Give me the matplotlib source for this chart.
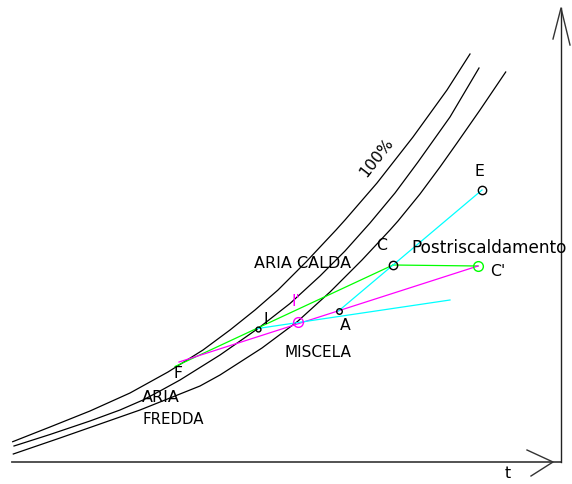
import matplotlib
matplotlib.use("Agg")
import matplotlib.pyplot as plt

# ---- data (pixel-like diagram units, y downward) ----
curve100_x = [12.7, 50, 90, 130, 168, 203, 230, 255, 278, 306, 336, 345, 377, 413, 447, 470]
curve100_y = [441.7, 427, 411, 393, 372, 350, 330, 310, 290, 262, 230, 220, 183, 137, 90, 54]

curve2_x = [14, 50, 90, 120, 143, 160, 180, 220, 258, 290, 320, 345, 370, 395, 418, 450, 479]
curve2_y = [446, 434.5, 421, 410, 400, 391, 380, 355, 328.5, 303.5, 276, 251, 223, 193, 162, 117, 68]

curve3_x = [13.3, 60, 100, 140, 180, 200, 220, 262, 297.5, 330, 362, 390, 398, 420, 440, 457, 480, 505.7]
curve3_y = [454, 438, 424, 410, 394, 386, 375, 348, 321.5, 292, 260, 230, 221, 194, 167, 143, 110, 72]

# state points
pt_F = (177, 365)
pt_I = (257.7, 328.5)
pt_M = (297.5, 321.5)      # miscela (I')
pt_A = (338.5, 311)
pt_C = (393, 265)
pt_Cp = (478, 266)
pt_E = (482, 190)
cyan_end = (450, 300)

# axes
x_axis_x = [12, 561]
x_axis_y = [462, 462]
y_axis_x = [561, 561]
y_axis_y = [462, 8]

labels = ["ARIA CALDA", "Postriscaldamento", "MISCELA", "ARIA", "FREDDA", "100%", "t",
          "E", "C", "C'", "A", "I", "I'", "F"]

# ---- drawing ----
fig = plt.figure(figsize=(5.72, 4.84), dpi=100)
ax = fig.add_axes([0, 0, 1, 1])
ax.set_xlim(0, 572)
ax.set_ylim(484, 0)
ax.axis("off")

lw = 0.9
for cx, cy in [(curve100_x, curve100_y), (curve2_x, curve2_y), (curve3_x, curve3_y)]:
    ax.plot(cx, cy, color="black", lw=lw)

# axes with arrows
ax.plot(x_axis_x, x_axis_y, color="#444444", lw=1.3)
ax.plot(y_axis_x, y_axis_y, color="#222222", lw=1.0)
ax.plot([527, 553, 531], [450, 462, 476], color="#333333", lw=1.0)
ax.plot([553, 561, 570], [39, 8, 45], color="#333333", lw=1.0)

GREEN = "#00ff00"
MAG = "#ff00ff"
CYAN = "#00ffff"

# process lines
ax.plot([175, pt_C[0]], [366.5, pt_C[1]], color=GREEN, lw=lw)
ax.plot([pt_C[0], pt_Cp[0]], [pt_C[1], pt_Cp[1]], color=GREEN, lw=lw)
ax.plot([179, pt_Cp[0]], [362, pt_Cp[1]], color=MAG, lw=lw)
ax.plot([pt_I[0], cyan_end[0]], [pt_I[1], cyan_end[1]], color=CYAN, lw=lw)
ax.plot([pt_A[0], pt_E[0]], [pt_A[1], pt_E[1]], color=CYAN, lw=lw)

# markers
ax.plot(*pt_I, marker="o", ms=3.5, mfc="none", mec="black", mew=1.0)
ax.plot(*pt_A, marker="o", ms=4, mfc="none", mec="black", mew=1.0)
ax.plot(*pt_M, marker="o", ms=7, mfc="none", mec=MAG, mew=1.0)
ax.plot(*pt_C, marker="o", ms=6, mfc="none", mec="black", mew=1.0)
ax.plot(*pt_Cp, marker="o", ms=7, mfc="none", mec=GREEN, mew=1.0)
ax.plot(*pt_E, marker="o", ms=6, mfc="none", mec="black", mew=1.0)

fs = 11.3
tk = dict(color="black", fontfamily="DejaVu Sans")
ax.text(254, 268, labels[0], fontsize=11.5, va="baseline", ha="left", **tk)
ax.text(411, 253, labels[1], fontsize=12.2, va="baseline", ha="left", **tk)
ax.text(285, 357, labels[2], fontsize=11, va="baseline", ha="left", **tk)
ax.text(142, 402, labels[3], fontsize=11.5, va="baseline", ha="left", **tk)
ax.text(142, 424, labels[4], fontsize=10.8, va="baseline", ha="left", **tk)
ax.text(377, 158, labels[5], fontsize=fs, va="center", ha="center", rotation=52, **tk)
ax.text(508, 474, labels[6], fontsize=fs, va="center", ha="center", **tk)
ax.text(479, 172, labels[7], fontsize=fs, va="center", ha="center", **tk)
ax.text(382, 245, labels[8], fontsize=fs, va="center", ha="center", **tk)
ax.text(498, 272, labels[9], fontsize=fs, va="center", ha="center", **tk)
ax.text(345, 325, labels[10], fontsize=fs, va="center", ha="center", **tk)
ax.text(266, 319, labels[11], fontsize=fs, va="center", ha="center", **tk)
ax.text(296, 302, labels[12], fontsize=fs, va="center", ha="center", color=MAG, fontfamily="DejaVu Sans")
ax.text(178, 374, labels[13], fontsize=fs, va="center", ha="center", **tk)

fig.savefig("out.png", dpi=100)
